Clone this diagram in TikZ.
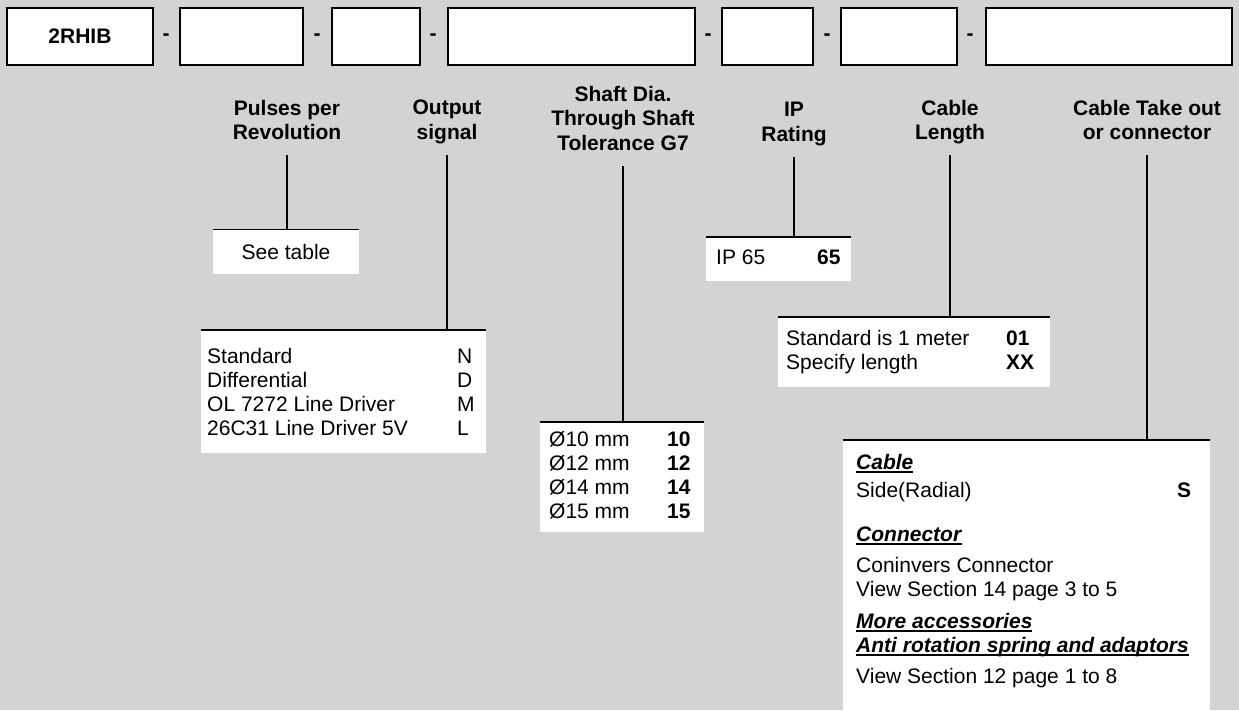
\documentclass[tikz,border=0pt]{standalone}
\usepackage{fontspec}
\setmainfont{Liberation Sans}
\usepackage{array}

\definecolor{sheetgray}{RGB}{209,211,212}
\newcommand{\bodysize}{\fontsize{21}{24}\selectfont}
\newcommand{\optitle}[1]{\leavevmode\setbox0=\hbox{\textbf{\textit{#1}}}\rlap{\rule[-3.3pt]{\wd0}{1.2pt}}\box0}

\begin{document}
\begin{tikzpicture}
        [ x=1pt, y=-1pt
        , codebox/.style={draw, fill=white, line width=1.3pt, minimum height=57, inner sep=0, font=\bodysize\bfseries}
        , sepmark/.style={inner sep=0, font=\bodysize\bfseries}
        , head/.style={anchor=north, align=center, inner sep=0, font=\fontsize{21}{24.5}\selectfont\bfseries, execute at begin node=\strut, execute at end node=\strut}
        , optbox/.style={anchor=north west, fill=white, inner ysep=0, font=\bodysize}
        , topline/.style={line width=1.3pt}
        , link/.style={line width=1.2pt, shorten <=8pt}
        ]
                \useasboundingbox (0,0) rectangle (1239,710);
                \fill[sheetgray] (0,0) rectangle (1239,710);

                % order code boxes
                \node[codebox, minimum width=146] (base) at (80,36.5) {2RHIB};
                \node[codebox, minimum width=123] (pulsebox) at (241.5,36.5) {};
                \node[codebox, minimum width=88] (signalbox) at (376,36.5) {};
                \node[codebox, minimum width=247] (shaftbox) at (571.5,36.5) {};
                \node[codebox, minimum width=91] (ipbox) at (767.5,36.5) {};
                \node[codebox, minimum width=116] (lengthbox) at (899,36.5) {};
                \node[codebox, minimum width=246] (takebox) at (1109,36.5) {};
                \foreach \x [count=\i] in {166,317,433,708,827,970}
                    \node[sepmark] (dash\i) at (\x,37.5) {-};

                % headings
                \node[head] (pulses) at (287,100) {Pulses per\\Revolution};
                \node[head] (output) at (447,100) {Output\\signal};
                \node[head] (shaft) at (623,86) {Shaft Dia.\\Through Shaft\\Tolerance G7};
                \node[head] (iprating) at (794,102) {IP\\Rating};
                \node[head] (length) at (950,100) {Cable\\Length};
                \node[head] (cabletake) at (1147,100) {Cable Take out\\or connector};

                % option boxes
                \node[optbox, anchor=center, minimum width=146, minimum height=44] (seetable) at (286,252) {See table};
                \node[optbox, inner xsep=6, minimum height=123] (signal) at (201,330)
                    {\begin{tabular}{@{}p{250pt}@{}p{23pt}@{}}
                        \rule{0pt}{22.2pt}Standard & N\\
                        Differential & D\\
                        OL 7272 Line Driver & M\\
                        26C31 Line Driver 5V & L
                    \end{tabular}};
                \node[optbox, inner xsep=9, minimum height=110] (shaftdia) at (540,422)
                    {\begin{tabular}{@{}p{118pt}@{}p{28pt}@{}}
                        Ø10 mm & \textbf{10}\\
                        Ø12 mm & \textbf{12}\\
                        Ø14 mm & \textbf{14}\\
                        Ø15 mm & \textbf{15}
                    \end{tabular}};
                \node[optbox, inner xsep=10, minimum height=44] (iprate) at (706,237)
                    {\begin{tabular}{@{}p{101pt}@{}l@{}}
                        IP 65 & \textbf{65}
                    \end{tabular}};
                \node[optbox, inner xsep=8, minimum height=70] (cablelen) at (778,317)
                    {\begin{tabular}{@{}p{220pt}@{}p{36pt}@{}}
                        Standard is 1 meter & \textbf{01}\\
                        Specify length & \textbf{XX}
                    \end{tabular}};
                \node[optbox, inner xsep=13, minimum height=270] (takeout) at (843,440)
                    {\begin{tabular}{@{}p{321pt}@{}p{20pt}@{}}
                        \optitle{Cable} & \\[4pt]
                        Side(Radial) & \textbf{S}\\[20pt]
                        \optitle{Connector} & \\[7pt]
                        Coninvers Connector & \\
                        View Section 14 page 3 to 5 & \\[8pt]
                        \multicolumn{2}{@{}l@{}}{\optitle{More accessories}}\\
                        \multicolumn{2}{@{}l@{}}{\optitle{Anti rotation spring and adaptors}}\\[7pt]
                        View Section 12 page 1 to 8 & \\[7.6pt]
                    \end{tabular}};
                \foreach \b in {seetable,signal,shaftdia,iprate,cablelen,takeout}
                    \draw[topline] (\b.north west) -- (\b.north east);

                % leader lines
                \draw[link] (pulses.south) -- (pulses.south |- seetable.north);
                \draw[link] (output.south) -- (output.south |- signal.north);
                \draw[link] (shaft.south) -- (shaft.south |- shaftdia.north);
                \draw[link] (iprating.south) -- (iprating.south |- iprate.north);
                \draw[link] (length.south) -- (length.south |- cablelen.north);
                \draw[link] (cabletake.south) -- (cabletake.south |- takeout.north);
        \end{tikzpicture}
\end{document}
